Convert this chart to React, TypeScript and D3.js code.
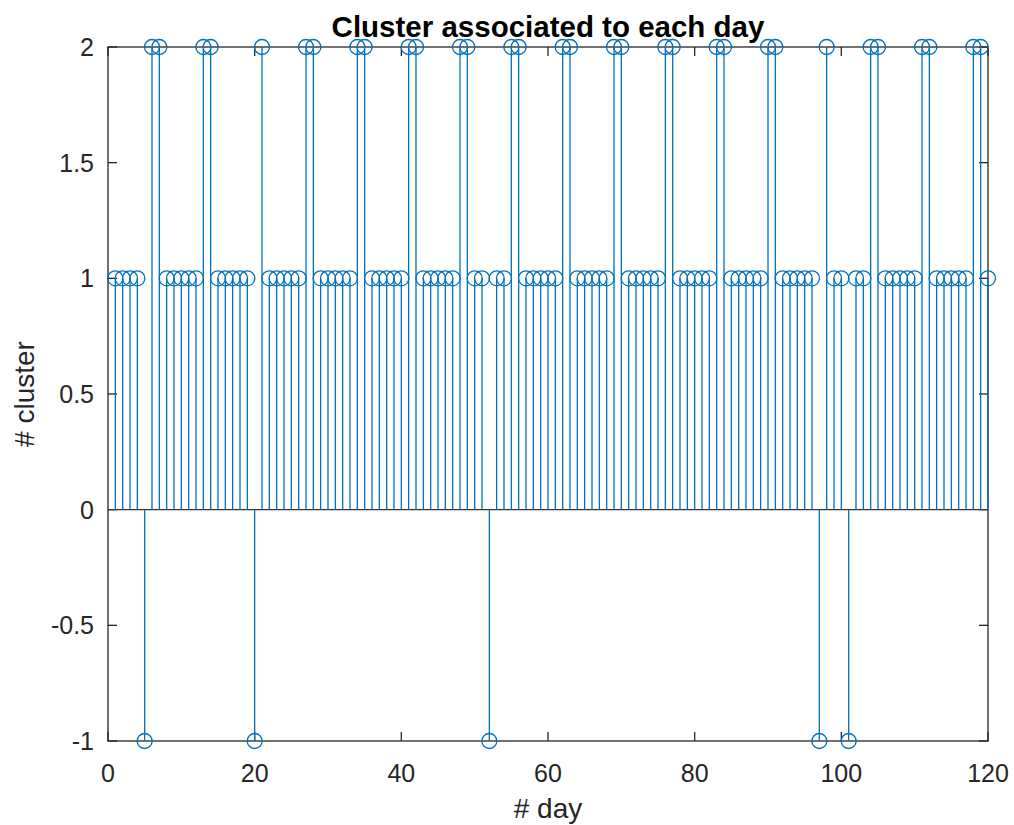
import { useEffect, useRef } from 'react';
import * as d3 from 'd3';

// cluster id per day (days 1..120)
const days: number[] = d3.range(1, 121);
const clusters: number[] = [
  1, 1, 1, 1, -1, 2, 2, 1, 1, 1,
  1, 1, 2, 2, 1, 1, 1, 1, 1, -1,
  2, 1, 1, 1, 1, 1, 2, 2, 1, 1,
  1, 1, 1, 2, 2, 1, 1, 1, 1, 1,
  2, 2, 1, 1, 1, 1, 1, 2, 2, 1,
  1, -1, 1, 1, 2, 2, 1, 1, 1, 1,
  1, 2, 2, 1, 1, 1, 1, 1, 2, 2,
  1, 1, 1, 1, 1, 2, 2, 1, 1, 1,
  1, 1, 2, 2, 1, 1, 1, 1, 1, 2,
  2, 1, 1, 1, 1, 1, -1, 2, 1, 1,
  -1, 1, 1, 2, 2, 1, 1, 1, 1, 1,
  2, 2, 1, 1, 1, 1, 1, 2, 2, 1,
];
const xTicks: number[] = [0, 20, 40, 60, 80, 100, 120];
const yTicks: number[] = [-1, -0.5, 0, 0.5, 1, 1.5, 2];

const titleText = 'Cluster associated to each day';
const xLabel = '# day';
const yLabel = '# cluster';

const App = () => {
  const ref = useRef<HTMLDivElement>(null);

  useEffect(() => {
    const W = 1014, H = 825;
    const left = 108, right = 988, top = 47, bottom = 741;
    const axisColor = '#262626';
    const stemColor = '#0072BD';
    const font = "'Liberation Sans', Arial, Helvetica, sans-serif";

    d3.select(ref.current).selectAll('svg').remove();

    const svg = d3.select(ref.current)
      .append('svg')
      .attr('width', W)
      .attr('height', H)
      .style('position', 'absolute')
      .style('left', '0px')
      .style('top', '0px')
      .style('background', '#fff');

    const x = d3.scaleLinear().domain([0, 120]).range([left, right]);
    const y = d3.scaleLinear().domain([-1, 2]).range([bottom, top]);

    // box
    svg.append('rect')
      .attr('x', left).attr('y', top)
      .attr('width', right - left).attr('height', bottom - top)
      .attr('fill', 'none')
      .attr('stroke', axisColor)
      .attr('stroke-width', 1.3);

    const tickLen = 9;
    // x ticks (bottom + top, inward)
    xTicks.forEach(t => {
      svg.append('line')
        .attr('x1', x(t)).attr('x2', x(t))
        .attr('y1', bottom).attr('y2', bottom - tickLen)
        .attr('stroke', axisColor).attr('stroke-width', 1.3);
      svg.append('line')
        .attr('x1', x(t)).attr('x2', x(t))
        .attr('y1', top).attr('y2', top + tickLen)
        .attr('stroke', axisColor).attr('stroke-width', 1.3);
    });
    svg.append('g')
      .selectAll('text')
      .data(xTicks)
      .join('text')
      .attr('x', d => x(d))
      .attr('y', 782)
      .attr('text-anchor', 'middle')
      .attr('font-family', font)
      .attr('font-size', 25)
      .attr('fill', axisColor)
      .text(d => d);

    // y ticks (left + right, inward)
    yTicks.forEach(t => {
      svg.append('line')
        .attr('x1', left).attr('x2', left + tickLen)
        .attr('y1', y(t)).attr('y2', y(t))
        .attr('stroke', axisColor).attr('stroke-width', 1.3);
      svg.append('line')
        .attr('x1', right).attr('x2', right - tickLen)
        .attr('y1', y(t)).attr('y2', y(t))
        .attr('stroke', axisColor).attr('stroke-width', 1.3);
    });
    svg.append('g')
      .selectAll('text')
      .data(yTicks)
      .join('text')
      .attr('x', 94)
      .attr('y', d => y(d) + 9)
      .attr('text-anchor', 'end')
      .attr('font-family', font)
      .attr('font-size', 25)
      .attr('fill', axisColor)
      .text(d => d);

    // baseline at 0
    svg.append('line')
      .attr('x1', left).attr('x2', right)
      .attr('y1', y(0)).attr('y2', y(0))
      .attr('stroke', '#333').attr('stroke-width', 1.3);

    // stems
    const pts = days.map((d, i) => ({ day: d, v: clusters[i] }));
    svg.append('g')
      .selectAll('line')
      .data(pts)
      .join('line')
      .attr('x1', d => x(d.day)).attr('x2', d => x(d.day))
      .attr('y1', y(0)).attr('y2', d => y(d.v))
      .attr('stroke', stemColor)
      .attr('stroke-width', 1.3);

    svg.append('g')
      .selectAll('circle')
      .data(pts)
      .join('circle')
      .attr('cx', d => x(d.day))
      .attr('cy', d => y(d.v))
      .attr('r', 7.5)
      .attr('fill', 'none')
      .attr('stroke', stemColor)
      .attr('stroke-width', 1.3);

    // title and labels
    svg.append('text')
      .attr('x', (left + right) / 2)
      .attr('y', 37)
      .attr('text-anchor', 'middle')
      .attr('font-family', font)
      .attr('font-weight', 'bold')
      .attr('font-size', 29.5)
      .attr('fill', '#000')
      .text(titleText);

    svg.append('text')
      .attr('x', (left + right) / 2)
      .attr('y', 818)
      .attr('text-anchor', 'middle')
      .attr('font-family', font)
      .attr('font-size', 28)
      .attr('fill', axisColor)
      .text(xLabel);

    svg.append('text')
      .attr('transform', `translate(34,${(top + bottom) / 2}) rotate(-90)`)
      .attr('text-anchor', 'middle')
      .attr('font-family', font)
      .attr('font-size', 28)
      .attr('fill', axisColor)
      .text(yLabel);
  }, []);

  return <div ref={ref}></div>;
};

export default App;
